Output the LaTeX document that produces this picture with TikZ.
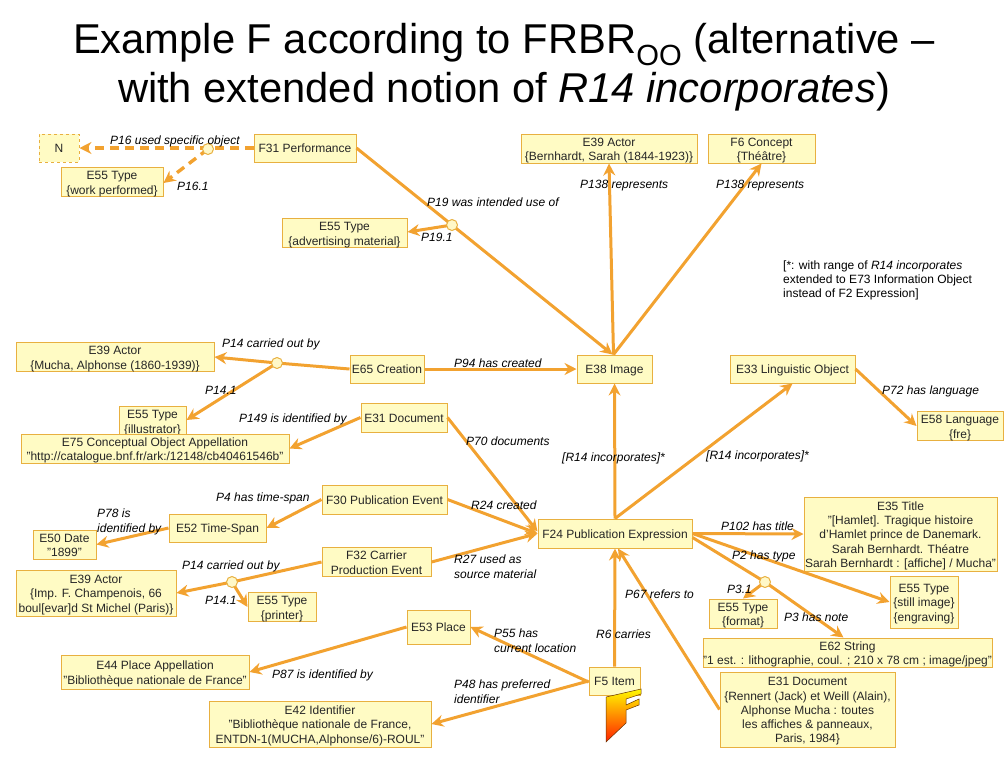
\documentclass[tikz,border=0pt]{standalone}
\usepackage{fontspec}
\setmainfont{Liberation Sans}
\usetikzlibrary{arrows.meta,calc}
\definecolor{boxfill}{HTML}{FFFBC4}
\definecolor{boxline}{HTML}{E8B040}
\definecolor{linkcol}{HTML}{F2A230}
\definecolor{dotfill}{HTML}{FFF8C8}
\tikzset{
  box/.style={draw=boxline,fill=boxfill,line width=1pt,inner sep=0pt,font=\fontsize{12}{14.3}\selectfont,text=black!85},
  ghost/.style={box,dashed},
  link/.style={draw=linkcol,line width=3pt},
  arr/.style={link,-{Stealth[length=12pt,width=12pt,inset=4pt]}},
  dlink/.style={draw=linkcol,line width=3.4pt,dash pattern=on 9pt off 6pt},
  darr/.style={dlink,-{Stealth[length=12pt,width=12pt,inset=4pt]}},
  dot/.style={circle,draw=boxline,fill=dotfill,line width=1pt,minimum size=11pt,inner sep=0pt},
  lab/.style={anchor=west,inner sep=0pt,align=left,yshift=-1pt,font=\fontsize{12}{15}\selectfont\itshape},
}
\newcommand{\bx}[7][box]{\node[#1,minimum width={#4-#2},minimum height={#5-#3}] (#6) at ({(#2+#4)/2},{(#3+#5)/2}) {\raisebox{-2pt}[\height][\depth]{\begin{tabular}{@{}c@{}}#7\end{tabular}}};}
\begin{document}
\begin{tikzpicture}[x=1pt,y=-1pt]
\useasboundingbox (0,0) rectangle (1008,756);
\node[font=\fontsize{41.7}{48.5}\selectfont,align=center,anchor=center] (title) at (504,67)
  {Example F according to FRBR$_{\mathrm{\fontspec{Liberation Sans}OO}}$ (alternative –\\with extended notion of \textit{R14 incorporates})};
% nodes
\bx[ghost]{39}{134}{79}{162}{n}{N}
\bx{254}{134}{356}{162}{f31}{F31 Performance}
\bx{61}{168}{163}{196}{typework}{E55 Type\\\{work performed\}}
\bx{282}{219}{407}{247}{typeadv}{E55 Type\\\{advertising material\}}
\bx{521}{134}{697}{163}{bernhardt}{E39 Actor\\\{Bernhardt, Sarah (1844-1923)\}}
\bx{708}{134}{815}{163}{concept}{F6 Concept\\\{Théâtre\}}
\bx{16}{343}{214}{371}{mucha}{E39 Actor\\\{Mucha, Alphonse (1860-1939)\}}
\bx{350}{355}{424}{383}{creation}{E65 Creation}
\bx{577}{355}{652}{383}{image}{E38 Image}
\bx{730}{355}{855}{383}{lingobj}{E33 Linguistic Object}
\bx{119}{406}{186}{436}{typeill}{E55 Type\\\{illustrator\}}
\bx{21}{434}{289}{463}{appell}{E75 Conceptual Object Appellation\\"http://catalogue.bnf.fr/ark:/12148/cb40461546b"}
\bx{361}{403}{447}{432}{doc}{E31 Document}
\bx{917}{412}{1003}{440}{lang}{E58 Language\\\{fre\}}
\bx{322}{485}{447}{514}{f30}{F30 Publication Event}
\bx{169}{514}{266}{542}{span}{E52 Time-Span}
\bx{33}{530}{96}{559}{date}{E50 Date\\"1899"}
\bx{322}{548}{431}{576}{f32}{F32 Carrier\\Production Event}
\bx{16}{570}{176}{616}{imp}{E39 Actor\\\{Imp. F. Champenois, 66\\boul[evar]d St Michel (Paris)\}}
\bx{248}{593}{316}{621}{typeprint}{E55 Type\\\{printer\}}
\bx{407}{610}{470}{644}{place}{E53 Place}
\bx{61}{655}{249}{689}{placeapp}{E44 Place Appellation\\"Bibliothèque nationale de France"}
\bx{209}{701}{431}{747}{ident}{E42 Identifier\\"Bibliothèque nationale de France,\\ENTDN-1(MUCHA,Alphonse/6)-ROUL"}
\bx{538}{519}{692}{548}{f24}{F24 Publication Expression}
\bx{804}{497}{997}{571}{titlebox}{E35 Title\\"[Hamlet]. Tragique histoire\\d'Hamlet prince de Danemark.\\Sarah Bernhardt. Théatre\\Sarah Bernhardt : [affiche] / Mucha"}
\bx{890}{576}{958}{628}{typestill}{E55 Type\\\{still image\}\\\{engraving\}}
\bx{709}{599}{777}{628}{typeformat}{E55 Type\\\{format\}}
\bx{703}{638}{992}{667}{string}{E62 String\\"1 est. : lithographie, coul. ; 210 x 78 cm ; image/jpeg"}
\bx{720}{672}{895}{747}{rennert}{E31 Document\\\{Rennert (Jack) et Weill (Alain),\\Alphonse Mucha : toutes\\les affiches \& panneaux,\\Paris, 1984\}}
\bx{589}{667}{640}{695}{item}{F5 Item}
% logo
\shade[top color=yellow!95!orange,bottom color=red!75!orange,draw=black!60!orange,line width=0.5pt]
  (606,697)--(641,689)--(641,694)--(626,699)--(626,705)--(639,699)--(639,705)--(626,710)--(626,723)--(606,742)--cycle;
% reified dots
\coordinate (dpos1) at (208,149);
\coordinate (dpos2) at (452,225);
\coordinate (dpos3) at (277,363);
\coordinate (dpos4) at (232,582);
\coordinate (dpos5) at (765,582);
% connectors
\draw[darr] (f31.west) -- (n.east);
\draw[darr] (dpos1) -- ([yshift=-1pt]typework.east);
\draw[arr] (f31.east) -- ([xshift=-2pt]image.north);
\draw[arr] (dpos2) -- ([yshift=1pt]typeadv.east);
\draw[arr] ([xshift=-1pt]image.north) -- (bernhardt.south);
\draw[arr] ([xshift=-1pt]image.north) -- (concept.south);
\draw[link] (creation.west) -- (dpos3);
\draw[arr] (dpos3) -- (mucha.east);
\draw[arr] (dpos3) -- ([yshift=1pt]typeill.east);
\draw[arr] (creation.east) -- (image.west);
\draw[arr] (doc.west) -- (appell.east);
\draw[arr] (doc.east) -- ([yshift=2pt]f24.west);
\draw[arr] (f30.west) -- (span.east);
\draw[arr] (f30.east) -- (f24.west);
\draw[arr] (span.west) -- (date.east);
\draw[arr] (f32.east) -- (f24.west);
\draw[link] (f32.west) -- (dpos4);
\draw[arr] (dpos4) -- (imp.east);
\draw[arr] (dpos4) -- (typeprint.west);
\draw[arr] (place.west) -- (placeapp.east);
\draw[arr] ([yshift=-1pt]item.west) -- (place.east);
\draw[arr] (item.west) -- (ident.east);
\draw[arr] (item.north) -- (f24.south);
\draw[arr] (rennert.west) -- ([xshift=3pt]f24.south);
\draw[arr] (f24.north) -- (image.south);
\draw[arr] (f24.north) -- (lingobj.south);
\draw[arr] (lingobj.east) -- (lang.west);
\draw[arr] (f24.east) -- (titlebox.west);
\draw[arr] (f24.east) -- (typestill.west);
\draw[link] ([yshift=-4pt]f24.east) -- (dpos5);
\draw[arr] (dpos5) -- ([xshift=-4pt]string.north);
\draw[arr] (dpos5) -- (typeformat.north);
\node[dot] (d1) at (dpos1) {};
\node[dot] (d2) at (dpos2) {};
\node[dot] (d3) at (dpos3) {};
\node[dot] (d4) at (dpos4) {};
\node[dot] (d5) at (dpos5) {};
% labels
\node[lab] (l1) at (110,140) {P16 used specific object};
\node[lab] (l2) at (177,185) {P16.1};
\node[lab] (l3) at (427,201) {P19 was intended use of};
\node[lab] (l4) at (421,236) {P19.1};
\node[lab] (l5) at (580,185) {P138 represents};
\node[lab] (l6) at (716,185) {P138 represents};
\node[lab] (l7) at (222,343) {P14 carried out by};
\node[lab] (l8) at (205,389) {P14.1};
\node[lab] (l9) at (454,362) {P94 has created};
\node[lab] (l10) at (239,418) {P149 is identified by};
\node[lab] (l11) at (466,440) {P70 documents};
\node[lab] (l12) at (562,457) {[R14 incorporates]*};
\node[lab] (l13) at (706,455) {[R14 incorporates]*};
\node[lab] (l14) at (882,390) {P72 has language};
\node[lab] (l15) at (216,497) {P4 has time-span};
\node[lab] (l16) at (471,504) {R24 created};
\node[lab] (l17) at (97,521) {P78 is\\identified by};
\node[lab] (l18) at (182,565) {P14 carried out by};
\node[lab] (l19) at (205,599) {P14.1};
\node[lab] (l20) at (454,566) {R27 used as\\source material};
\node[lab] (l21) at (721,525) {P102 has title};
\node[lab] (l22) at (732,555) {P2 has type};
\node[lab] (l23) at (727,588) {P3.1};
\node[lab] (l24) at (784,616) {P3 has note};
\node[lab] (l25) at (625,593) {P67 refers to};
\node[lab] (l26) at (494,640) {P55 has\\current location};
\node[lab] (l27) at (596,633) {R6 carries};
\node[lab] (l28) at (272,674) {P87 is identified by};
\node[lab] (l29) at (454,691) {P48 has preferred\\identifier};
\node[lab,font=\fontsize{12}{14}\selectfont] (note) at (783,279) {[*: with range of \textit{R14 incorporates}\\extended to E73 Information Object\\instead of F2 Expression]};
\end{tikzpicture}
\end{document}
